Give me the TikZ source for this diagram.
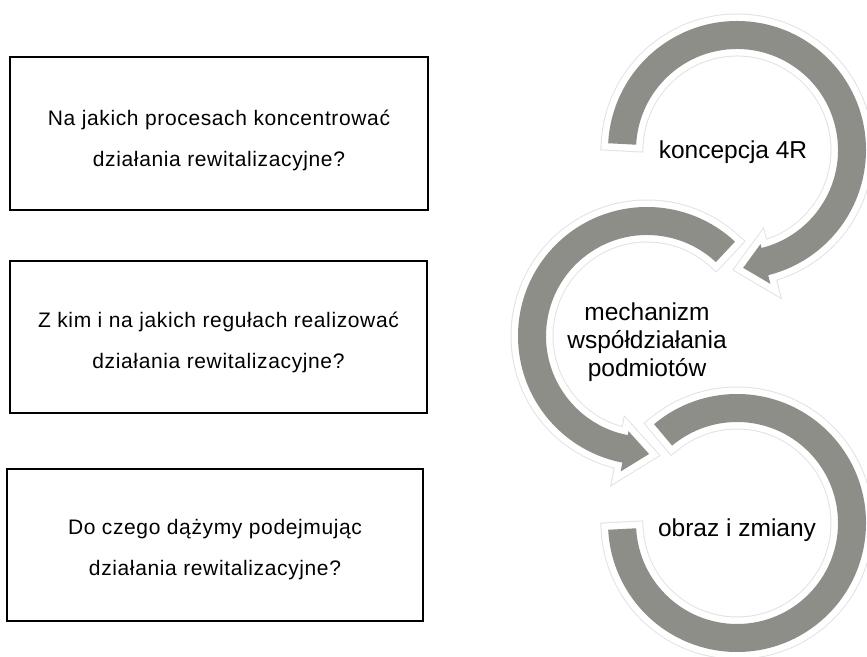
\documentclass[tikz,border=0pt]{standalone}
\usepackage{fontspec}
\setmainfont{Liberation Sans}
\newfontfamily\boxfont[LetterSpace=3]{Liberation Sans}
\definecolor{ringgray}{RGB}{141,142,136}
\definecolor{halogray}{RGB}{226,226,226}
\tikzset{
  qbox/.style={draw, line width=1.3pt, inner sep=0pt},
  qtext/.style={align=center, font=\boxfont\fontsize{21}{41}\selectfont},
  ring/.style={line join=miter,
    preaction={draw=halogray, line width=15pt},
    preaction={draw=white, line width=13pt},
    fill=ringgray},
  ringtext/.style={align=center, font=\fontsize{24.5}{28}\selectfont}
}
\begin{document}
\begin{tikzpicture}[x=1pt,y=1pt]
\useasboundingbox (0,0) rectangle (867,656);
% questions
\node[qbox, minimum width=418, minimum height=153] (q1) at (219,522.5) {};
\node[qbox, minimum width=417, minimum height=152] (q2) at (218.5,319) {};
\node[qbox, minimum width=416, minimum height=152] (q3) at (215,111) {};
\node[qtext] (t1) at ([yshift=-7]q1.center) {Na jakich procesach koncentrować\\działania rewitalizacyjne?};
\node[qtext] (t2) at ([yshift=-5]q2.center) {Z kim i na jakich regułach realizować\\działania rewitalizacyjne?};
\node[qtext] (t3) at ([yshift=-5]q3.center) {Do czego dążymy podejmując\\działania rewitalizacyjne?};
% circular arrows
\begin{scope}[shift={(737,506)}]
  \path[ring] (177:129) arc[start angle=177, end angle=-76, radius=129] -- (-76:138) -- (-87:118) -- (-76:97) -- (-76:101) arc[start angle=-76, end angle=177, radius=101] -- cycle;
\end{scope}
\begin{scope}[shift={(647,320)}]
  \path[ring] (47:129) arc[start angle=47, end angle=259, radius=129] -- (259:138) -- (271:118) -- (259:97) -- (259:101) arc[start angle=259, end angle=47, radius=101] -- cycle;
\end{scope}
\begin{scope}[shift={(737,133)}]
  \path[ring] (130:129) arc[start angle=130, end angle=-177, radius=129] -- (-177:101) arc[start angle=-177, end angle=130, radius=101] -- cycle;
\end{scope}
\node[ringtext] (r1) at (733,504) {koncepcja 4R};
\node[ringtext] (r2) at (647,314) {mechanizm\\współdziałania\\podmiotów};
\node[ringtext] (r3) at (737,126) {obraz i zmiany};
\end{tikzpicture}
\end{document}
